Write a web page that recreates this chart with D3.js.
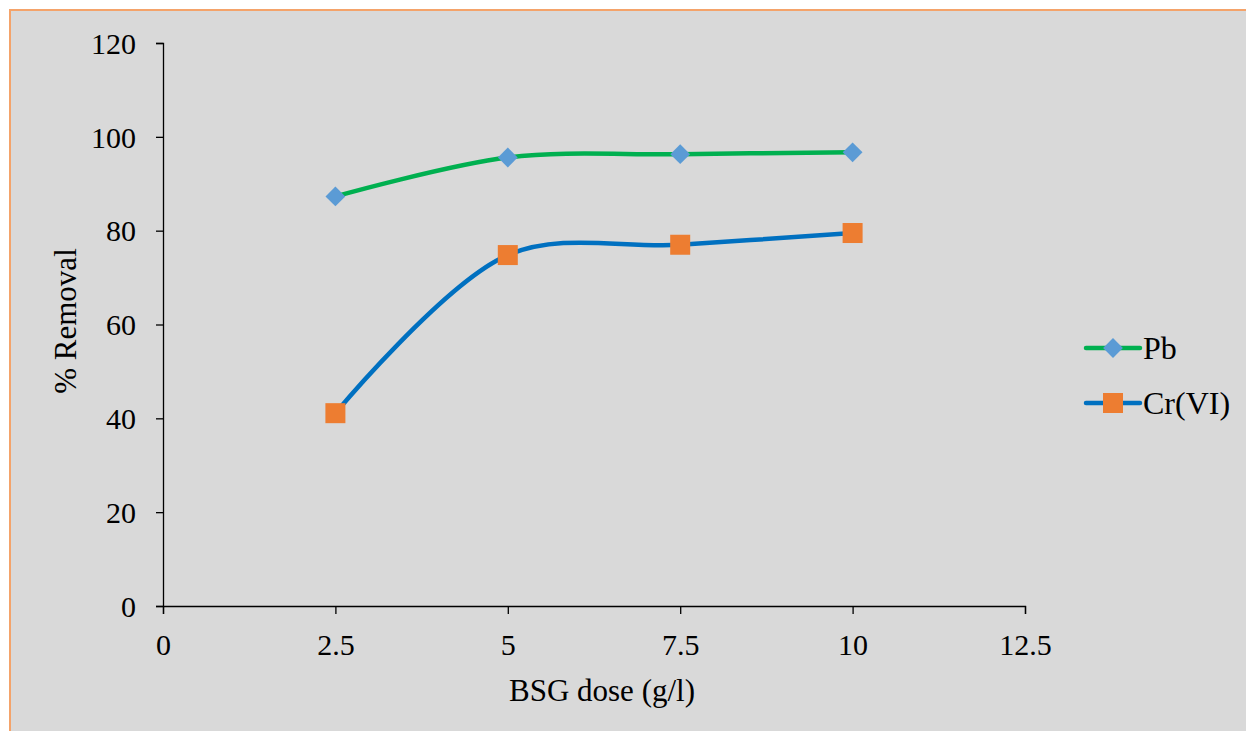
<!DOCTYPE html>
<html>
<head>
<meta charset="utf-8">
<script src="https://cdnjs.cloudflare.com/ajax/libs/d3/7.8.5/d3.min.js"></script>
<style>
  body { margin: 0; background: #fff; }
  text { font-family: "Liberation Serif", "Times New Roman", serif; fill: #000; }
</style>
</head>
<body>
<div id="chart"></div>
<script>
// BSG dose vs % removal
const doses = [2.5, 5, 7.5, 10];
const pbValues = [87.3, 95.6, 96.3, 96.7];
const crValues = [41.1, 74.8, 77.0, 79.5];
const xTicks = [0, 2.5, 5, 7.5, 10, 12.5];
const yTicks = [0, 20, 40, 60, 80, 100, 120];

const W = 1246, H = 731;
const margin = {top: 43, left: 163, right: 221, bottom: 125};
const width = W - margin.left - margin.right,
    height = H - margin.top - margin.bottom;

const svg = d3.select("#chart")
  .append("svg")
    .attr("width", W)
    .attr("height", H);

// chart area background + orange frame
svg.append("rect")
  .attr("x", 10).attr("y", 10)
  .attr("width", W).attr("height", H)
  .attr("fill", "#d9d9d9")
  .attr("stroke", "#f4a36a")
  .attr("stroke-width", 2);

const g = svg.append("g")
  .attr("transform", "translate(" + margin.left + "," + margin.top + ")");

const x = d3.scaleLinear().domain([0, 12.5]).range([0, width]);
const y = d3.scaleLinear().domain([0, 120]).range([height, 0]);

// axes
const xAxis = g.append("g")
  .attr("transform", "translate(0," + height + ")")
  .call(d3.axisBottom(x).tickValues(xTicks).tickSize(8).tickSizeOuter(8)
    .tickFormat(d3.format("")));
const yAxis = g.append("g")
  .call(d3.axisLeft(y).tickValues(yTicks).tickSize(7).tickSizeOuter(7));

[xAxis, yAxis].forEach(a => {
  a.attr("font-size", null).attr("font-family", null);
  a.select(".domain").attr("stroke", "#000").attr("stroke-width", 1.3);
  a.selectAll(".tick line").attr("stroke", "#000").attr("stroke-width", 1.3);
  a.selectAll(".tick text").style("font-size", "30px").attr("fill", "#000");
});
xAxis.selectAll(".tick text").attr("y", 28).attr("dy", "0.71em");
yAxis.selectAll(".tick text").attr("x", -27).attr("dy", "0.34em");

// axis titles
g.append("text")
  .attr("x", x(6.25) + 8)
  .attr("y", height + 95)
  .attr("text-anchor", "middle")
  .style("font-size", "31px")
  .text("BSG dose (g/l)");

g.append("text")
  .attr("transform", "rotate(-90)")
  .attr("x", -(321 - margin.top))
  .attr("y", -87)
  .attr("text-anchor", "middle")
  .style("font-size", "31px")
  .text("% Removal");

const line = d3.line()
  .x(d => x(d[0]))
  .y(d => y(d[1]))
  .curve(d3.curveCatmullRom.alpha(0.5));

const series = [
  {name: "Pb", values: pbValues, line: "#00b050", marker: "#5b9bd5", shape: "diamond"},
  {name: "Cr(VI)", values: crValues, line: "#0070c0", marker: "#ed7d31", shape: "square"}
];

function drawMarker(sel, s) {
  if (s.shape === "diamond") {
    sel.append("rect")
      .attr("x", -7).attr("y", -7).attr("width", 14).attr("height", 14)
      .attr("transform", "rotate(45)")
      .attr("fill", s.marker);
  } else {
    sel.append("rect")
      .attr("x", -10).attr("y", -10).attr("width", 20).attr("height", 20)
      .attr("fill", s.marker);
  }
}

series.forEach(s => {
  const pts = doses.map((d, i) => [d, s.values[i]]);
  g.append("path")
    .datum(pts)
    .attr("fill", "none")
    .attr("stroke", s.line)
    .attr("stroke-width", 4.5)
    .attr("stroke-linecap", "round")
    .attr("d", line);
  g.selectAll(null)
    .data(pts)
    .enter()
    .append("g")
      .attr("transform", d => "translate(" + x(d[0]) + "," + y(d[1]) + ")")
      .each(function() { drawMarker(d3.select(this), s); });
});

// legend
const legend = svg.append("g").attr("transform", "translate(1086,348)");
series.forEach((s, i) => {
  const row = legend.append("g").attr("transform", "translate(0," + (i * 55) + ")");
  row.append("line")
    .attr("x1", 0).attr("x2", 54)
    .attr("stroke", s.line).attr("stroke-width", 4.5)
    .attr("stroke-linecap", "round");
  drawMarker(row.append("g").attr("transform", "translate(27,0)"), s);
  row.append("text")
    .attr("x", 57).attr("dy", "0.35em")
    .style("font-size", "32px")
    .text(s.name);
});
</script>
</body>
</html>
